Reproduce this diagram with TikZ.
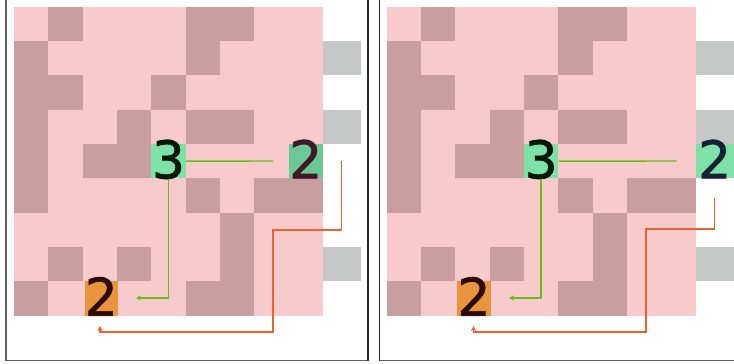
\documentclass[tikz,border=0pt]{standalone}
\usepackage{fontspec}
\setmainfont{DejaVu Sans}
\newfontfamily\digitfont[FakeBold=1.3]{DejaVu Sans}
\usetikzlibrary{arrows.meta}
\definecolor{pinkc}{HTML}{F7CBCB}
\definecolor{darkc}{HTML}{C99E9E}
\definecolor{greyc}{HTML}{C6C7C7}
\definecolor{greenA}{HTML}{7EE2A8}
\definecolor{greenB}{HTML}{6CC796}
\definecolor{orangec}{HTML}{E8943C}
\definecolor{glinec}{HTML}{6ABF14}
\definecolor{olinec}{HTML}{F0622A}
\definecolor{framec}{HTML}{606060}
\definecolor{midc}{HTML}{262626}
\newcommand\cs{34.33}
\newcommand\mazegrid{%
  \fill[pinkc] (0,0) rectangle ({9*\cs},{9*\cs});
  \foreach \c/\r in {1/0,5/0,6/0,0/1,5/1,0/2,1/2,4/2,0/3,3/3,5/3,6/3,0/4,2/4,3/4,0/5,5/5,7/5,8/5,6/6,1/7,3/7,6/7,0/8,5/8,6/8}{
    \fill[darkc] ({\c*\cs},{\r*\cs}) rectangle ({(\c+1)*\cs},{(\r+1)*\cs});}
  \foreach \r in {1,3,7}{
    \fill[greyc] ({9*\cs},{\r*\cs}) rectangle ({9*\cs+38},{(\r+1)*\cs});}
}
\tikzset{
  numcell/.style={inner sep=0pt, minimum width=\cs pt, minimum height=\cs pt,
    text height=\cs pt, text depth=0pt, font=\digitfont\fontsize{52}{52}\selectfont},
  gline/.style={draw=glinec, line width=1.4pt},
  oline/.style={draw=olinec, line width=1.4pt},
  tip/.style={-{Stealth[length=5pt,width=5pt]}},
  frame/.style={draw=framec, line width=1.6pt}
}
\begin{document}
\begin{tikzpicture}[x=1pt,y=-1pt]
\useasboundingbox (0,0) rectangle (734,364);
\clip (0,0) rectangle (734,364);
\fill[white] (0,0) rectangle (734,364);
% ---------- left panel ----------
\begin{scope}[shift={(14,6.7)}]
  \mazegrid
  \node[numcell, fill=greenA, text=black!90!green] (L3) at ({4.5*\cs},{4.5*\cs}) {3};
  \node[numcell, fill=greenB, text={rgb,255:red,61;green,26;blue,38}] (L2g) at ({8.5*\cs},{4.5*\cs}) {2};
  \node[numcell, minimum width=31pt, fill=orangec, text={rgb,255:red,43;green,10;blue,8}] (L2o) at ({2.5*\cs+1.5},{8.5*\cs}) {2};
\end{scope}
\coordinate (Lg1) at (273,161);
\coordinate (Lg2) at (136,298);
\coordinate (Lo1) at (341.7,161);
\coordinate (Lo2) at (100,326);
\draw[gline] (L3.east) -- (Lg1);
\draw[gline,tip] (L3.south) |- (Lg2);
\draw[oline,tip] (Lo1) -- (341.7,230) -| (273,332) -| (Lo2);
% ---------- right panel ----------
\begin{scope}[shift={(386.7,6.7)}]
  \mazegrid
  \node[numcell, fill=greenA, text=black!90!green] (R3) at ({4.5*\cs},{4.5*\cs}) {3};
  \node[numcell, minimum width=38pt, fill=greenA, text={rgb,255:red,20;green,34;blue,51}] (R2g) at ({9*\cs+19},{4.5*\cs}) {2};
  \node[numcell, minimum width=31pt, fill=orangec, text={rgb,255:red,43;green,10;blue,8}] (R2o) at ({2.5*\cs+1.5},{8.5*\cs}) {2};
\end{scope}
\coordinate (Rg1) at (676.7,161);
\coordinate (Rg2) at (509,298);
\coordinate (Ro1) at (714.3,197.7);
\coordinate (Ro2) at (473.5,326);
\draw[gline] (R3.east) -- (Rg1);
\draw[gline,tip] (R3.south) |- (Rg2);
\draw[oline,tip] (Ro1) -- (714.3,229) -| (646,332) -| (Ro2);
% ---------- frames ----------
\draw[frame] (5.8,-5) rectangle (367.8,360.6);
\draw[frame] (379.5,-5) rectangle (745,360.6);
\draw[draw=midc, line width=1.6pt] (367.8,-5) -- (367.8,360.6);
\draw[draw=midc, line width=1.6pt] (379.5,-5) -- (379.5,360.6);
\end{tikzpicture}
\end{document}
